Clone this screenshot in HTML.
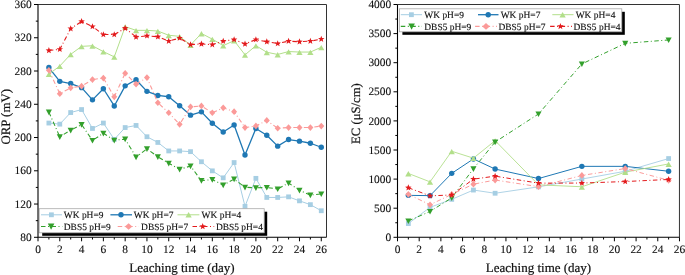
<!DOCTYPE html>
<html><head><meta charset="utf-8"><style>
html,body{margin:0;padding:0;background:#fff;width:685px;height:275px;overflow:hidden}
svg{display:block;will-change:transform}
text{font-family:"Liberation Serif",serif;fill:#111;text-rendering:geometricPrecision}
.tk{font-size:11.4px;stroke:#111;stroke-width:0.12px}
.ti{font-size:13px;stroke:#111;stroke-width:0.2px}
.lg{font-size:9.45px;stroke:#111;stroke-width:0.12px}
</style></head><body>
<svg width="685" height="275" viewBox="0 0 685 275">
<g><path d="M48.89 123.05 L59.79 124.15 L70.69 112.55 L81.58 109.55 L92.47 128.45 L103.37 123.05 L114.27 139.35 L125.16 127.55 L136.06 125.45 L146.95 136.75 L157.84 142.45 L168.74 150.95 L179.63 150.95 L190.53 151.65 L201.42 161.75 L212.32 170.85 L223.22 177.85 L234.11 162.55 L245.00 206.35 L255.90 178.35 L266.79 197.45 L277.69 197.45 L288.58 196.85 L299.48 200.85 L310.38 204.65 L321.27 210.75" fill="none" stroke="#a6cee3" stroke-width="1.0" stroke-linejoin="round"/><rect x="46.49" y="120.65" width="4.80" height="4.80" fill="#a6cee3"/><rect x="57.39" y="121.75" width="4.80" height="4.80" fill="#a6cee3"/><rect x="68.28" y="110.15" width="4.80" height="4.80" fill="#a6cee3"/><rect x="79.18" y="107.15" width="4.80" height="4.80" fill="#a6cee3"/><rect x="90.07" y="126.05" width="4.80" height="4.80" fill="#a6cee3"/><rect x="100.97" y="120.65" width="4.80" height="4.80" fill="#a6cee3"/><rect x="111.86" y="136.95" width="4.80" height="4.80" fill="#a6cee3"/><rect x="122.76" y="125.15" width="4.80" height="4.80" fill="#a6cee3"/><rect x="133.66" y="123.05" width="4.80" height="4.80" fill="#a6cee3"/><rect x="144.55" y="134.35" width="4.80" height="4.80" fill="#a6cee3"/><rect x="155.44" y="140.05" width="4.80" height="4.80" fill="#a6cee3"/><rect x="166.34" y="148.55" width="4.80" height="4.80" fill="#a6cee3"/><rect x="177.23" y="148.55" width="4.80" height="4.80" fill="#a6cee3"/><rect x="188.13" y="149.25" width="4.80" height="4.80" fill="#a6cee3"/><rect x="199.02" y="159.35" width="4.80" height="4.80" fill="#a6cee3"/><rect x="209.92" y="168.45" width="4.80" height="4.80" fill="#a6cee3"/><rect x="220.81" y="175.45" width="4.80" height="4.80" fill="#a6cee3"/><rect x="231.71" y="160.15" width="4.80" height="4.80" fill="#a6cee3"/><rect x="242.60" y="203.95" width="4.80" height="4.80" fill="#a6cee3"/><rect x="253.50" y="175.95" width="4.80" height="4.80" fill="#a6cee3"/><rect x="264.39" y="195.05" width="4.80" height="4.80" fill="#a6cee3"/><rect x="275.29" y="195.05" width="4.80" height="4.80" fill="#a6cee3"/><rect x="286.19" y="194.45" width="4.80" height="4.80" fill="#a6cee3"/><rect x="297.08" y="198.45" width="4.80" height="4.80" fill="#a6cee3"/><rect x="307.98" y="202.25" width="4.80" height="4.80" fill="#a6cee3"/><rect x="318.87" y="208.35" width="4.80" height="4.80" fill="#a6cee3"/><path d="M48.89 67.55 L59.79 81.35 L70.69 83.55 L81.58 87.65 L92.47 99.85 L103.37 88.75 L114.27 105.95 L125.16 85.85 L136.06 79.75 L146.95 91.35 L157.84 95.45 L168.74 96.75 L179.63 105.75 L190.53 115.15 L201.42 111.85 L212.32 123.25 L223.22 131.95 L234.11 124.95 L245.00 154.95 L255.90 128.45 L266.79 135.25 L277.69 146.15 L288.58 139.55 L299.48 141.15 L310.38 143.25 L321.27 147.25" fill="none" stroke="#1f78b4" stroke-width="1.3" stroke-linejoin="round"/><circle cx="48.89" cy="67.55" r="2.7" fill="#1f78b4"/><circle cx="59.79" cy="81.35" r="2.7" fill="#1f78b4"/><circle cx="70.69" cy="83.55" r="2.7" fill="#1f78b4"/><circle cx="81.58" cy="87.65" r="2.7" fill="#1f78b4"/><circle cx="92.47" cy="99.85" r="2.7" fill="#1f78b4"/><circle cx="103.37" cy="88.75" r="2.7" fill="#1f78b4"/><circle cx="114.27" cy="105.95" r="2.7" fill="#1f78b4"/><circle cx="125.16" cy="85.85" r="2.7" fill="#1f78b4"/><circle cx="136.06" cy="79.75" r="2.7" fill="#1f78b4"/><circle cx="146.95" cy="91.35" r="2.7" fill="#1f78b4"/><circle cx="157.84" cy="95.45" r="2.7" fill="#1f78b4"/><circle cx="168.74" cy="96.75" r="2.7" fill="#1f78b4"/><circle cx="179.63" cy="105.75" r="2.7" fill="#1f78b4"/><circle cx="190.53" cy="115.15" r="2.7" fill="#1f78b4"/><circle cx="201.42" cy="111.85" r="2.7" fill="#1f78b4"/><circle cx="212.32" cy="123.25" r="2.7" fill="#1f78b4"/><circle cx="223.22" cy="131.95" r="2.7" fill="#1f78b4"/><circle cx="234.11" cy="124.95" r="2.7" fill="#1f78b4"/><circle cx="245.00" cy="154.95" r="2.7" fill="#1f78b4"/><circle cx="255.90" cy="128.45" r="2.7" fill="#1f78b4"/><circle cx="266.79" cy="135.25" r="2.7" fill="#1f78b4"/><circle cx="277.69" cy="146.15" r="2.7" fill="#1f78b4"/><circle cx="288.58" cy="139.55" r="2.7" fill="#1f78b4"/><circle cx="299.48" cy="141.15" r="2.7" fill="#1f78b4"/><circle cx="310.38" cy="143.25" r="2.7" fill="#1f78b4"/><circle cx="321.27" cy="147.25" r="2.7" fill="#1f78b4"/><path d="M48.89 74.15 L59.79 66.05 L70.69 54.35 L81.58 46.35 L92.47 45.75 L103.37 51.65 L114.27 56.85 L125.16 26.65 L136.06 30.35 L146.95 30.35 L157.84 31.05 L168.74 35.25 L179.63 36.35 L190.53 45.05 L201.42 33.45 L212.32 39.15 L223.22 45.65 L234.11 40.65 L245.00 54.85 L255.90 45.65 L266.79 52.25 L277.69 54.45 L288.58 51.55 L299.48 52.05 L310.38 52.05 L321.27 47.25" fill="none" stroke="#b2df8a" stroke-width="1.0" stroke-linejoin="round"/><path d="M48.89 71.80L51.99 77.10L45.79 77.10Z" fill="#b2df8a"/><path d="M59.79 63.70L62.89 69.00L56.69 69.00Z" fill="#b2df8a"/><path d="M70.69 52.00L73.78 57.30L67.59 57.30Z" fill="#b2df8a"/><path d="M81.58 44.00L84.68 49.30L78.48 49.30Z" fill="#b2df8a"/><path d="M92.47 43.40L95.57 48.70L89.38 48.70Z" fill="#b2df8a"/><path d="M103.37 49.30L106.47 54.60L100.27 54.60Z" fill="#b2df8a"/><path d="M114.27 54.50L117.36 59.80L111.17 59.80Z" fill="#b2df8a"/><path d="M125.16 24.30L128.26 29.60L122.06 29.60Z" fill="#b2df8a"/><path d="M136.06 28.00L139.16 33.30L132.96 33.30Z" fill="#b2df8a"/><path d="M146.95 28.00L150.05 33.30L143.85 33.30Z" fill="#b2df8a"/><path d="M157.84 28.70L160.94 34.00L154.75 34.00Z" fill="#b2df8a"/><path d="M168.74 32.90L171.84 38.20L165.64 38.20Z" fill="#b2df8a"/><path d="M179.63 34.00L182.73 39.30L176.53 39.30Z" fill="#b2df8a"/><path d="M190.53 42.70L193.63 48.00L187.43 48.00Z" fill="#b2df8a"/><path d="M201.42 31.10L204.52 36.40L198.32 36.40Z" fill="#b2df8a"/><path d="M212.32 36.80L215.42 42.10L209.22 42.10Z" fill="#b2df8a"/><path d="M223.22 43.30L226.31 48.60L220.12 48.60Z" fill="#b2df8a"/><path d="M234.11 38.30L237.21 43.60L231.01 43.60Z" fill="#b2df8a"/><path d="M245.00 52.50L248.10 57.80L241.91 57.80Z" fill="#b2df8a"/><path d="M255.90 43.30L259.00 48.60L252.80 48.60Z" fill="#b2df8a"/><path d="M266.79 49.90L269.89 55.20L263.69 55.20Z" fill="#b2df8a"/><path d="M277.69 52.10L280.79 57.40L274.59 57.40Z" fill="#b2df8a"/><path d="M288.58 49.20L291.69 54.50L285.48 54.50Z" fill="#b2df8a"/><path d="M299.48 49.70L302.58 55.00L296.38 55.00Z" fill="#b2df8a"/><path d="M310.38 49.70L313.48 55.00L307.27 55.00Z" fill="#b2df8a"/><path d="M321.27 44.90L324.37 50.20L318.17 50.20Z" fill="#b2df8a"/><path d="M48.89 112.15 L59.79 136.75 L70.69 130.25 L81.58 124.55 L92.47 140.45 L103.37 133.25 L114.27 140.25 L125.16 139.15 L136.06 157.05 L146.95 148.85 L157.84 156.85 L168.74 163.25 L179.63 169.35 L190.53 166.05 L201.42 180.65 L212.32 179.55 L223.22 185.05 L234.11 179.15 L245.00 187.25 L255.90 187.85 L266.79 187.45 L277.69 188.95 L288.58 183.05 L299.48 190.25 L310.38 195.05 L321.27 193.95" fill="none" stroke="#33a02c" stroke-width="1.1" stroke-dasharray="4.5 2.5 1 2.5" stroke-linejoin="round"/><path d="M48.89 115.30L51.94 109.60L45.84 109.60Z" fill="#33a02c"/><path d="M59.79 139.90L62.84 134.20L56.74 134.20Z" fill="#33a02c"/><path d="M70.69 133.40L73.73 127.70L67.64 127.70Z" fill="#33a02c"/><path d="M81.58 127.70L84.63 122.00L78.53 122.00Z" fill="#33a02c"/><path d="M92.47 143.60L95.52 137.90L89.42 137.90Z" fill="#33a02c"/><path d="M103.37 136.40L106.42 130.70L100.32 130.70Z" fill="#33a02c"/><path d="M114.27 143.40L117.31 137.70L111.22 137.70Z" fill="#33a02c"/><path d="M125.16 142.30L128.21 136.60L122.11 136.60Z" fill="#33a02c"/><path d="M136.06 160.20L139.11 154.50L133.00 154.50Z" fill="#33a02c"/><path d="M146.95 152.00L150.00 146.30L143.90 146.30Z" fill="#33a02c"/><path d="M157.84 160.00L160.90 154.30L154.79 154.30Z" fill="#33a02c"/><path d="M168.74 166.40L171.79 160.70L165.69 160.70Z" fill="#33a02c"/><path d="M179.63 172.50L182.69 166.80L176.58 166.80Z" fill="#33a02c"/><path d="M190.53 169.20L193.58 163.50L187.48 163.50Z" fill="#33a02c"/><path d="M201.42 183.80L204.47 178.10L198.37 178.10Z" fill="#33a02c"/><path d="M212.32 182.70L215.37 177.00L209.27 177.00Z" fill="#33a02c"/><path d="M223.22 188.20L226.27 182.50L220.16 182.50Z" fill="#33a02c"/><path d="M234.11 182.30L237.16 176.60L231.06 176.60Z" fill="#33a02c"/><path d="M245.00 190.40L248.06 184.70L241.95 184.70Z" fill="#33a02c"/><path d="M255.90 191.00L258.95 185.30L252.85 185.30Z" fill="#33a02c"/><path d="M266.79 190.60L269.84 184.90L263.74 184.90Z" fill="#33a02c"/><path d="M277.69 192.10L280.74 186.40L274.64 186.40Z" fill="#33a02c"/><path d="M288.58 186.20L291.63 180.50L285.53 180.50Z" fill="#33a02c"/><path d="M299.48 193.40L302.53 187.70L296.43 187.70Z" fill="#33a02c"/><path d="M310.38 198.20L313.43 192.50L307.32 192.50Z" fill="#33a02c"/><path d="M321.27 197.10L324.32 191.40L318.22 191.40Z" fill="#33a02c"/><path d="M48.89 70.25 L59.79 93.75 L70.69 87.85 L81.58 86.15 L92.47 79.55 L103.37 78.05 L114.27 96.85 L125.16 73.25 L136.06 84.15 L146.95 77.55 L157.84 102.75 L168.74 112.75 L179.63 124.35 L190.53 106.85 L201.42 105.95 L212.32 112.75 L223.22 107.85 L234.11 111.65 L245.00 127.55 L255.90 125.95 L266.79 120.45 L277.69 128.25 L288.58 127.55 L299.48 127.55 L310.38 127.55 L321.27 126.05" fill="none" stroke="#fb9a99" stroke-width="1.1" stroke-dasharray="4.5 2.5 1 2.5" stroke-linejoin="round"/><path d="M48.89 66.90L51.89 70.25L48.89 73.60L45.89 70.25Z" fill="#fb9a99"/><path d="M59.79 90.40L62.79 93.75L59.79 97.10L56.79 93.75Z" fill="#fb9a99"/><path d="M70.69 84.50L73.69 87.85L70.69 91.20L67.69 87.85Z" fill="#fb9a99"/><path d="M81.58 82.80L84.58 86.15L81.58 89.50L78.58 86.15Z" fill="#fb9a99"/><path d="M92.47 76.20L95.47 79.55L92.47 82.90L89.47 79.55Z" fill="#fb9a99"/><path d="M103.37 74.70L106.37 78.05L103.37 81.40L100.37 78.05Z" fill="#fb9a99"/><path d="M114.27 93.50L117.27 96.85L114.27 100.20L111.27 96.85Z" fill="#fb9a99"/><path d="M125.16 69.90L128.16 73.25L125.16 76.60L122.16 73.25Z" fill="#fb9a99"/><path d="M136.06 80.80L139.06 84.15L136.06 87.50L133.06 84.15Z" fill="#fb9a99"/><path d="M146.95 74.20L149.95 77.55L146.95 80.90L143.95 77.55Z" fill="#fb9a99"/><path d="M157.84 99.40L160.84 102.75L157.84 106.10L154.84 102.75Z" fill="#fb9a99"/><path d="M168.74 109.40L171.74 112.75L168.74 116.10L165.74 112.75Z" fill="#fb9a99"/><path d="M179.63 121.00L182.63 124.35L179.63 127.70L176.63 124.35Z" fill="#fb9a99"/><path d="M190.53 103.50L193.53 106.85L190.53 110.20L187.53 106.85Z" fill="#fb9a99"/><path d="M201.42 102.60L204.42 105.95L201.42 109.30L198.42 105.95Z" fill="#fb9a99"/><path d="M212.32 109.40L215.32 112.75L212.32 116.10L209.32 112.75Z" fill="#fb9a99"/><path d="M223.22 104.50L226.22 107.85L223.22 111.20L220.22 107.85Z" fill="#fb9a99"/><path d="M234.11 108.30L237.11 111.65L234.11 115.00L231.11 111.65Z" fill="#fb9a99"/><path d="M245.00 124.20L248.00 127.55L245.00 130.90L242.00 127.55Z" fill="#fb9a99"/><path d="M255.90 122.60L258.90 125.95L255.90 129.30L252.90 125.95Z" fill="#fb9a99"/><path d="M266.79 117.10L269.79 120.45L266.79 123.80L263.79 120.45Z" fill="#fb9a99"/><path d="M277.69 124.90L280.69 128.25L277.69 131.60L274.69 128.25Z" fill="#fb9a99"/><path d="M288.58 124.20L291.58 127.55L288.58 130.90L285.58 127.55Z" fill="#fb9a99"/><path d="M299.48 124.20L302.48 127.55L299.48 130.90L296.48 127.55Z" fill="#fb9a99"/><path d="M310.38 124.20L313.38 127.55L310.38 130.90L307.38 127.55Z" fill="#fb9a99"/><path d="M321.27 122.70L324.27 126.05L321.27 129.40L318.27 126.05Z" fill="#fb9a99"/><path d="M48.89 50.45 L59.79 49.35 L70.69 28.65 L81.58 21.45 L92.47 26.55 L103.37 34.55 L114.27 34.55 L125.16 28.25 L136.06 36.95 L146.95 35.85 L157.84 36.75 L168.74 41.15 L179.63 38.05 L190.53 44.65 L201.42 43.95 L212.32 44.65 L223.22 41.15 L234.11 39.55 L245.00 43.95 L255.90 39.55 L266.79 41.75 L277.69 43.55 L288.58 41.15 L299.48 41.75 L310.38 41.15 L321.27 39.15" fill="none" stroke="#e31a1c" stroke-width="1.1" stroke-dasharray="4.5 2.5 1 2.5" stroke-linejoin="round"/><polygon points="48.89,47.05 49.75,49.28 52.13,49.40 50.27,50.90 50.89,53.20 48.89,51.90 46.90,53.20 47.52,50.90 45.66,49.40 48.04,49.28" fill="#e31a1c"/><polygon points="59.79,45.95 60.64,48.18 63.02,48.30 61.17,49.80 61.79,52.10 59.79,50.80 57.79,52.10 58.41,49.80 56.56,48.30 58.94,48.18" fill="#e31a1c"/><polygon points="70.69,25.25 71.54,27.48 73.92,27.60 72.06,29.10 72.68,31.40 70.69,30.10 68.69,31.40 69.31,29.10 67.45,27.60 69.83,27.48" fill="#e31a1c"/><polygon points="81.58,18.05 82.43,20.28 84.81,20.40 82.96,21.90 83.58,24.20 81.58,22.90 79.58,24.20 80.20,21.90 78.35,20.40 80.73,20.28" fill="#e31a1c"/><polygon points="92.47,23.15 93.33,25.38 95.71,25.50 93.85,27.00 94.47,29.30 92.47,28.00 90.48,29.30 91.10,27.00 89.24,25.50 91.62,25.38" fill="#e31a1c"/><polygon points="103.37,31.15 104.22,33.38 106.60,33.50 104.75,35.00 105.37,37.30 103.37,36.00 101.37,37.30 101.99,35.00 100.14,33.50 102.52,33.38" fill="#e31a1c"/><polygon points="114.27,31.15 115.12,33.38 117.50,33.50 115.64,35.00 116.26,37.30 114.27,36.00 112.27,37.30 112.89,35.00 111.03,33.50 113.41,33.38" fill="#e31a1c"/><polygon points="125.16,24.85 126.01,27.08 128.39,27.20 126.54,28.70 127.16,31.00 125.16,29.70 123.16,31.00 123.78,28.70 121.93,27.20 124.31,27.08" fill="#e31a1c"/><polygon points="136.06,33.55 136.91,35.78 139.29,35.90 137.43,37.40 138.05,39.70 136.06,38.40 134.06,39.70 134.68,37.40 132.82,35.90 135.20,35.78" fill="#e31a1c"/><polygon points="146.95,32.45 147.80,34.68 150.18,34.80 148.33,36.30 148.95,38.60 146.95,37.30 144.95,38.60 145.57,36.30 143.72,34.80 146.10,34.68" fill="#e31a1c"/><polygon points="157.84,33.35 158.70,35.58 161.08,35.70 159.22,37.20 159.84,39.50 157.84,38.20 155.85,39.50 156.47,37.20 154.61,35.70 156.99,35.58" fill="#e31a1c"/><polygon points="168.74,37.75 169.59,39.98 171.97,40.10 170.12,41.60 170.74,43.90 168.74,42.60 166.74,43.90 167.36,41.60 165.51,40.10 167.89,39.98" fill="#e31a1c"/><polygon points="179.63,34.65 180.49,36.88 182.87,37.00 181.01,38.50 181.63,40.80 179.63,39.50 177.64,40.80 178.26,38.50 176.40,37.00 178.78,36.88" fill="#e31a1c"/><polygon points="190.53,41.25 191.38,43.48 193.76,43.60 191.91,45.10 192.53,47.40 190.53,46.10 188.53,47.40 189.15,45.10 187.30,43.60 189.68,43.48" fill="#e31a1c"/><polygon points="201.42,40.55 202.28,42.78 204.66,42.90 202.80,44.40 203.42,46.70 201.42,45.40 199.43,46.70 200.05,44.40 198.19,42.90 200.57,42.78" fill="#e31a1c"/><polygon points="212.32,41.25 213.17,43.48 215.55,43.60 213.70,45.10 214.32,47.40 212.32,46.10 210.32,47.40 210.94,45.10 209.09,43.60 211.47,43.48" fill="#e31a1c"/><polygon points="223.22,37.75 224.07,39.98 226.45,40.10 224.59,41.60 225.21,43.90 223.22,42.60 221.22,43.90 221.84,41.60 219.98,40.10 222.36,39.98" fill="#e31a1c"/><polygon points="234.11,36.15 234.96,38.38 237.34,38.50 235.49,40.00 236.11,42.30 234.11,41.00 232.11,42.30 232.73,40.00 230.88,38.50 233.26,38.38" fill="#e31a1c"/><polygon points="245.00,40.55 245.86,42.78 248.24,42.90 246.38,44.40 247.00,46.70 245.00,45.40 243.01,46.70 243.63,44.40 241.77,42.90 244.15,42.78" fill="#e31a1c"/><polygon points="255.90,36.15 256.75,38.38 259.13,38.50 257.28,40.00 257.90,42.30 255.90,41.00 253.90,42.30 254.52,40.00 252.67,38.50 255.05,38.38" fill="#e31a1c"/><polygon points="266.79,38.35 267.65,40.58 270.03,40.70 268.17,42.20 268.79,44.50 266.79,43.20 264.80,44.50 265.42,42.20 263.56,40.70 265.94,40.58" fill="#e31a1c"/><polygon points="277.69,40.15 278.54,42.38 280.92,42.50 279.07,44.00 279.69,46.30 277.69,45.00 275.69,46.30 276.31,44.00 274.46,42.50 276.84,42.38" fill="#e31a1c"/><polygon points="288.58,37.75 289.44,39.98 291.82,40.10 289.96,41.60 290.58,43.90 288.58,42.60 286.59,43.90 287.21,41.60 285.35,40.10 287.73,39.98" fill="#e31a1c"/><polygon points="299.48,38.35 300.33,40.58 302.71,40.70 300.86,42.20 301.48,44.50 299.48,43.20 297.48,44.50 298.10,42.20 296.25,40.70 298.63,40.58" fill="#e31a1c"/><polygon points="310.38,37.75 311.23,39.98 313.61,40.10 311.75,41.60 312.37,43.90 310.38,42.60 308.38,43.90 309.00,41.60 307.14,40.10 309.52,39.98" fill="#e31a1c"/><polygon points="321.27,35.75 322.12,37.98 324.50,38.10 322.65,39.60 323.27,41.90 321.27,40.60 319.27,41.90 319.89,39.60 318.04,38.10 320.42,37.98" fill="#e31a1c"/></g>
<g><path d="M408.35 223.55 L430.04 207.35 L451.73 199.35 L473.42 190.05 L495.11 193.25 L538.49 186.85 L581.87 179.05 L625.25 171.25 L668.62 158.55" fill="none" stroke="#a6cee3" stroke-width="0.9" stroke-linejoin="round"/><rect x="405.95" y="221.15" width="4.80" height="4.80" fill="#a6cee3"/><rect x="427.64" y="204.95" width="4.80" height="4.80" fill="#a6cee3"/><rect x="449.33" y="196.95" width="4.80" height="4.80" fill="#a6cee3"/><rect x="471.02" y="187.65" width="4.80" height="4.80" fill="#a6cee3"/><rect x="492.71" y="190.85" width="4.80" height="4.80" fill="#a6cee3"/><rect x="536.09" y="184.45" width="4.80" height="4.80" fill="#a6cee3"/><rect x="579.47" y="176.65" width="4.80" height="4.80" fill="#a6cee3"/><rect x="622.85" y="168.85" width="4.80" height="4.80" fill="#a6cee3"/><rect x="666.23" y="156.15" width="4.80" height="4.80" fill="#a6cee3"/><path d="M408.35 195.35 L430.04 195.65 L451.73 173.35 L473.42 158.95 L495.11 169.05 L538.49 178.55 L581.87 166.35 L625.25 166.35 L668.62 171.25" fill="none" stroke="#1f78b4" stroke-width="1.0" stroke-linejoin="round"/><circle cx="408.35" cy="195.35" r="2.7" fill="#1f78b4"/><circle cx="430.04" cy="195.65" r="2.7" fill="#1f78b4"/><circle cx="451.73" cy="173.35" r="2.7" fill="#1f78b4"/><circle cx="473.42" cy="158.95" r="2.7" fill="#1f78b4"/><circle cx="495.11" cy="169.05" r="2.7" fill="#1f78b4"/><circle cx="538.49" cy="178.55" r="2.7" fill="#1f78b4"/><circle cx="581.87" cy="166.35" r="2.7" fill="#1f78b4"/><circle cx="625.25" cy="166.35" r="2.7" fill="#1f78b4"/><circle cx="668.62" cy="171.25" r="2.7" fill="#1f78b4"/><path d="M408.35 173.45 L430.04 181.85 L451.73 151.25 L473.42 158.15 L495.11 140.65 L538.49 184.85 L581.87 186.75 L625.25 172.15 L668.62 163.95" fill="none" stroke="#b2df8a" stroke-width="0.9" stroke-linejoin="round"/><path d="M408.35 171.10L411.45 176.40L405.25 176.40Z" fill="#b2df8a"/><path d="M430.04 179.50L433.14 184.80L426.94 184.80Z" fill="#b2df8a"/><path d="M451.73 148.90L454.83 154.20L448.62 154.20Z" fill="#b2df8a"/><path d="M473.42 155.80L476.52 161.10L470.31 161.10Z" fill="#b2df8a"/><path d="M495.11 138.30L498.21 143.60L492.00 143.60Z" fill="#b2df8a"/><path d="M538.49 182.50L541.59 187.80L535.38 187.80Z" fill="#b2df8a"/><path d="M581.87 184.40L584.97 189.70L578.76 189.70Z" fill="#b2df8a"/><path d="M625.25 169.80L628.35 175.10L622.14 175.10Z" fill="#b2df8a"/><path d="M668.62 161.60L671.73 166.90L665.52 166.90Z" fill="#b2df8a"/><path d="M408.35 220.95 L430.04 211.45 L451.73 197.85 L473.42 168.75 L495.11 142.05 L538.49 113.95 L581.87 63.95 L625.25 43.35 L668.62 39.95" fill="none" stroke="#33a02c" stroke-width="1.0" stroke-dasharray="4.5 2.5 1 2.5" stroke-linejoin="round"/><path d="M408.35 224.10L411.40 218.40L405.30 218.40Z" fill="#33a02c"/><path d="M430.04 214.60L433.09 208.90L426.99 208.90Z" fill="#33a02c"/><path d="M451.73 201.00L454.78 195.30L448.68 195.30Z" fill="#33a02c"/><path d="M473.42 171.90L476.47 166.20L470.37 166.20Z" fill="#33a02c"/><path d="M495.11 145.20L498.16 139.50L492.06 139.50Z" fill="#33a02c"/><path d="M538.49 117.10L541.53 111.40L535.44 111.40Z" fill="#33a02c"/><path d="M581.87 67.10L584.91 61.40L578.82 61.40Z" fill="#33a02c"/><path d="M625.25 46.50L628.29 40.80L622.20 40.80Z" fill="#33a02c"/><path d="M668.62 43.10L671.67 37.40L665.58 37.40Z" fill="#33a02c"/><path d="M408.35 194.35 L430.04 204.75 L451.73 194.35 L473.42 184.15 L495.11 180.05 L538.49 186.65 L581.87 175.45 L625.25 168.55 L668.62 180.35" fill="none" stroke="#fb9a99" stroke-width="1.0" stroke-dasharray="4.5 2.5 1 2.5" stroke-linejoin="round"/><path d="M408.35 191.00L411.35 194.35L408.35 197.70L405.35 194.35Z" fill="#fb9a99"/><path d="M430.04 201.40L433.04 204.75L430.04 208.10L427.04 204.75Z" fill="#fb9a99"/><path d="M451.73 191.00L454.73 194.35L451.73 197.70L448.73 194.35Z" fill="#fb9a99"/><path d="M473.42 180.80L476.42 184.15L473.42 187.50L470.42 184.15Z" fill="#fb9a99"/><path d="M495.11 176.70L498.11 180.05L495.11 183.40L492.11 180.05Z" fill="#fb9a99"/><path d="M538.49 183.30L541.49 186.65L538.49 190.00L535.49 186.65Z" fill="#fb9a99"/><path d="M581.87 172.10L584.87 175.45L581.87 178.80L578.87 175.45Z" fill="#fb9a99"/><path d="M625.25 165.20L628.25 168.55L625.25 171.90L622.25 168.55Z" fill="#fb9a99"/><path d="M668.62 177.00L671.62 180.35L668.62 183.70L665.62 180.35Z" fill="#fb9a99"/><path d="M408.35 187.75 L430.04 195.85 L451.73 194.95 L473.42 179.15 L495.11 176.15 L538.49 183.15 L581.87 183.05 L625.25 181.55 L668.62 179.45" fill="none" stroke="#e31a1c" stroke-width="1.0" stroke-dasharray="4.5 2.5 1 2.5" stroke-linejoin="round"/><polygon points="408.35,184.35 409.20,186.58 411.58,186.70 409.72,188.20 410.34,190.50 408.35,189.20 406.35,190.50 406.97,188.20 405.11,186.70 407.49,186.58" fill="#e31a1c"/><polygon points="430.04,192.45 430.89,194.68 433.27,194.80 431.41,196.30 432.03,198.60 430.04,197.30 428.04,198.60 428.66,196.30 426.80,194.80 429.18,194.68" fill="#e31a1c"/><polygon points="451.73,191.55 452.58,193.78 454.96,193.90 453.10,195.40 453.72,197.70 451.73,196.40 449.73,197.70 450.35,195.40 448.49,193.90 450.87,193.78" fill="#e31a1c"/><polygon points="473.42,175.75 474.27,177.98 476.65,178.10 474.79,179.60 475.41,181.90 473.42,180.60 471.42,181.90 472.04,179.60 470.18,178.10 472.56,177.98" fill="#e31a1c"/><polygon points="495.11,172.75 495.96,174.98 498.34,175.10 496.48,176.60 497.10,178.90 495.11,177.60 493.11,178.90 493.73,176.60 491.87,175.10 494.25,174.98" fill="#e31a1c"/><polygon points="538.49,179.75 539.34,181.98 541.72,182.10 539.86,183.60 540.48,185.90 538.49,184.60 536.49,185.90 537.11,183.60 535.25,182.10 537.63,181.98" fill="#e31a1c"/><polygon points="581.87,179.65 582.72,181.88 585.10,182.00 583.24,183.50 583.86,185.80 581.87,184.50 579.87,185.80 580.49,183.50 578.63,182.00 581.01,181.88" fill="#e31a1c"/><polygon points="625.25,178.15 626.10,180.38 628.48,180.50 626.62,182.00 627.24,184.30 625.25,183.00 623.25,184.30 623.87,182.00 622.01,180.50 624.39,180.38" fill="#e31a1c"/><polygon points="668.62,176.05 669.48,178.28 671.86,178.40 670.00,179.90 670.62,182.20 668.62,180.90 666.63,182.20 667.25,179.90 665.39,178.40 667.77,178.28" fill="#e31a1c"/></g>
<rect x="42.2" y="211.7" width="225.0" height="24.100000000000023" fill="#000"/><rect x="39.2" y="208.7" width="225.0" height="24.100000000000023" fill="#fff" stroke="#aaa" stroke-width="0.8"/><line x1="41.0" y1="214.8" x2="62" y2="214.8" stroke="#a6cee3" stroke-width="1.0"/><rect x="49.00" y="212.40" width="4.80" height="4.80" fill="#a6cee3"/><text x="63.80" y="218.10" class="lg">WK pH=9</text><line x1="110.4" y1="214.8" x2="132" y2="214.8" stroke="#1f78b4" stroke-width="1.3"/><circle cx="121.00" cy="214.80" r="2.7" fill="#1f78b4"/><text x="133.80" y="218.10" class="lg">WK pH=7</text><line x1="177.5" y1="214.8" x2="199.4" y2="214.8" stroke="#b2df8a" stroke-width="1.0"/><path d="M188.60 212.00L191.70 217.60L185.50 217.60Z" fill="#b2df8a"/><text x="201.60" y="218.10" class="lg">WK pH=4</text><line x1="41" y1="226.5" x2="62.3" y2="226.5" stroke="#33a02c" stroke-width="1.1" stroke-dasharray="4.5 2.5 1 2.5"/><path d="M51.10 229.80L54.40 223.60L47.80 223.60Z" fill="#33a02c"/><text x="63.80" y="229.80" class="lg">DBS5 pH=9</text><line x1="117.7" y1="226.5" x2="138.8" y2="226.5" stroke="#fb9a99" stroke-width="1.1" stroke-dasharray="4.5 2.5 1 2.5"/><path d="M128.60 223.20L132.30 226.50L128.60 229.80L124.90 226.50Z" fill="#fb9a99"/><text x="141.10" y="229.80" class="lg">DBS5 pH=7</text><line x1="192.5" y1="226.5" x2="214.2" y2="226.5" stroke="#e31a1c" stroke-width="1.1" stroke-dasharray="4.5 2.5 1 2.5"/><polygon points="202.70,223.10 203.55,225.33 205.93,225.45 204.08,226.95 204.70,229.25 202.70,227.95 200.70,229.25 201.32,226.95 199.47,225.45 201.85,225.33" fill="#e31a1c"/><text x="215.90" y="229.80" class="lg">DBS5 pH=4</text><rect x="402.4" y="11.8" width="222.39999999999998" height="23.0" fill="#000"/><rect x="399.4" y="8.8" width="222.39999999999998" height="23.0" fill="#fff" stroke="#aaa" stroke-width="0.8"/><line x1="400.8" y1="14.7" x2="422" y2="14.7" stroke="#a6cee3" stroke-width="1.0"/><rect x="409.00" y="12.30" width="4.80" height="4.80" fill="#a6cee3"/><text x="424.30" y="18.00" class="lg">WK pH=9</text><line x1="478" y1="14.7" x2="498.5" y2="14.7" stroke="#1f78b4" stroke-width="1.3"/><circle cx="488.20" cy="14.70" r="2.7" fill="#1f78b4"/><text x="500.70" y="18.00" class="lg">WK pH=7</text><line x1="552.3" y1="14.7" x2="573.5" y2="14.7" stroke="#b2df8a" stroke-width="1.0"/><path d="M562.60 11.90L565.70 17.50L559.50 17.50Z" fill="#b2df8a"/><text x="575.70" y="18.00" class="lg">WK pH=4</text><line x1="400.8" y1="26.4" x2="422" y2="26.4" stroke="#33a02c" stroke-width="1.1" stroke-dasharray="4.5 2.5 1 2.5"/><path d="M411.60 29.70L414.90 23.50L408.30 23.50Z" fill="#33a02c"/><text x="424.30" y="29.70" class="lg">DBS5 pH=9</text><line x1="475.1" y1="26.4" x2="497" y2="26.4" stroke="#fb9a99" stroke-width="1.1" stroke-dasharray="4.5 2.5 1 2.5"/><path d="M486.00 23.10L489.70 26.40L486.00 29.70L482.30 26.40Z" fill="#fb9a99"/><text x="498.50" y="29.70" class="lg">DBS5 pH=7</text><line x1="550.1" y1="26.4" x2="572" y2="26.4" stroke="#e31a1c" stroke-width="1.1" stroke-dasharray="4.5 2.5 1 2.5"/><polygon points="560.40,23.00 561.25,25.23 563.63,25.35 561.78,26.85 562.40,29.15 560.40,27.85 558.40,29.15 559.02,26.85 557.17,25.35 559.55,25.23" fill="#e31a1c"/><text x="573.50" y="29.70" class="lg">DBS5 pH=4</text>
<path d="M38.0 4.5 H326.5 V237.3" fill="none" stroke="#333" stroke-width="1"/><path d="M38.0 4.5 V237.3 H326.5" fill="none" stroke="#000" stroke-width="1.1"/><line x1="34.0" y1="237.30" x2="38.0" y2="237.30" stroke="#000" stroke-width="1"/><line x1="35.8" y1="220.67" x2="38.0" y2="220.67" stroke="#000" stroke-width="1"/><line x1="34.0" y1="204.04" x2="38.0" y2="204.04" stroke="#000" stroke-width="1"/><line x1="35.8" y1="187.41" x2="38.0" y2="187.41" stroke="#000" stroke-width="1"/><line x1="34.0" y1="170.79" x2="38.0" y2="170.79" stroke="#000" stroke-width="1"/><line x1="35.8" y1="154.16" x2="38.0" y2="154.16" stroke="#000" stroke-width="1"/><line x1="34.0" y1="137.53" x2="38.0" y2="137.53" stroke="#000" stroke-width="1"/><line x1="35.8" y1="120.90" x2="38.0" y2="120.90" stroke="#000" stroke-width="1"/><line x1="34.0" y1="104.27" x2="38.0" y2="104.27" stroke="#000" stroke-width="1"/><line x1="35.8" y1="87.64" x2="38.0" y2="87.64" stroke="#000" stroke-width="1"/><line x1="34.0" y1="71.01" x2="38.0" y2="71.01" stroke="#000" stroke-width="1"/><line x1="35.8" y1="54.39" x2="38.0" y2="54.39" stroke="#000" stroke-width="1"/><line x1="34.0" y1="37.76" x2="38.0" y2="37.76" stroke="#000" stroke-width="1"/><line x1="35.8" y1="21.13" x2="38.0" y2="21.13" stroke="#000" stroke-width="1"/><line x1="34.0" y1="4.50" x2="38.0" y2="4.50" stroke="#000" stroke-width="1"/><text x="31.7" y="240.90" class="tk" text-anchor="end">80</text><text x="31.7" y="207.64" class="tk" text-anchor="end">120</text><text x="31.7" y="174.39" class="tk" text-anchor="end">160</text><text x="31.7" y="141.13" class="tk" text-anchor="end">200</text><text x="31.7" y="107.87" class="tk" text-anchor="end">240</text><text x="31.7" y="74.61" class="tk" text-anchor="end">280</text><text x="31.7" y="41.36" class="tk" text-anchor="end">320</text><text x="31.7" y="8.10" class="tk" text-anchor="end">360</text><line x1="38.00" y1="237.3" x2="38.00" y2="241.3" stroke="#000" stroke-width="1"/><line x1="48.89" y1="237.3" x2="48.89" y2="239.5" stroke="#000" stroke-width="1"/><line x1="59.79" y1="237.3" x2="59.79" y2="241.3" stroke="#000" stroke-width="1"/><line x1="70.69" y1="237.3" x2="70.69" y2="239.5" stroke="#000" stroke-width="1"/><line x1="81.58" y1="237.3" x2="81.58" y2="241.3" stroke="#000" stroke-width="1"/><line x1="92.47" y1="237.3" x2="92.47" y2="239.5" stroke="#000" stroke-width="1"/><line x1="103.37" y1="237.3" x2="103.37" y2="241.3" stroke="#000" stroke-width="1"/><line x1="114.27" y1="237.3" x2="114.27" y2="239.5" stroke="#000" stroke-width="1"/><line x1="125.16" y1="237.3" x2="125.16" y2="241.3" stroke="#000" stroke-width="1"/><line x1="136.06" y1="237.3" x2="136.06" y2="239.5" stroke="#000" stroke-width="1"/><line x1="146.95" y1="237.3" x2="146.95" y2="241.3" stroke="#000" stroke-width="1"/><line x1="157.84" y1="237.3" x2="157.84" y2="239.5" stroke="#000" stroke-width="1"/><line x1="168.74" y1="237.3" x2="168.74" y2="241.3" stroke="#000" stroke-width="1"/><line x1="179.63" y1="237.3" x2="179.63" y2="239.5" stroke="#000" stroke-width="1"/><line x1="190.53" y1="237.3" x2="190.53" y2="241.3" stroke="#000" stroke-width="1"/><line x1="201.42" y1="237.3" x2="201.42" y2="239.5" stroke="#000" stroke-width="1"/><line x1="212.32" y1="237.3" x2="212.32" y2="241.3" stroke="#000" stroke-width="1"/><line x1="223.22" y1="237.3" x2="223.22" y2="239.5" stroke="#000" stroke-width="1"/><line x1="234.11" y1="237.3" x2="234.11" y2="241.3" stroke="#000" stroke-width="1"/><line x1="245.00" y1="237.3" x2="245.00" y2="239.5" stroke="#000" stroke-width="1"/><line x1="255.90" y1="237.3" x2="255.90" y2="241.3" stroke="#000" stroke-width="1"/><line x1="266.79" y1="237.3" x2="266.79" y2="239.5" stroke="#000" stroke-width="1"/><line x1="277.69" y1="237.3" x2="277.69" y2="241.3" stroke="#000" stroke-width="1"/><line x1="288.58" y1="237.3" x2="288.58" y2="239.5" stroke="#000" stroke-width="1"/><line x1="299.48" y1="237.3" x2="299.48" y2="241.3" stroke="#000" stroke-width="1"/><line x1="310.38" y1="237.3" x2="310.38" y2="239.5" stroke="#000" stroke-width="1"/><line x1="321.27" y1="237.3" x2="321.27" y2="241.3" stroke="#000" stroke-width="1"/><text x="38.00" y="252.8" class="tk" text-anchor="middle">0</text><text x="59.79" y="252.8" class="tk" text-anchor="middle">2</text><text x="81.58" y="252.8" class="tk" text-anchor="middle">4</text><text x="103.37" y="252.8" class="tk" text-anchor="middle">6</text><text x="125.16" y="252.8" class="tk" text-anchor="middle">8</text><text x="146.95" y="252.8" class="tk" text-anchor="middle">10</text><text x="168.74" y="252.8" class="tk" text-anchor="middle">12</text><text x="190.53" y="252.8" class="tk" text-anchor="middle">14</text><text x="212.32" y="252.8" class="tk" text-anchor="middle">16</text><text x="234.11" y="252.8" class="tk" text-anchor="middle">18</text><text x="255.90" y="252.8" class="tk" text-anchor="middle">20</text><text x="277.69" y="252.8" class="tk" text-anchor="middle">22</text><text x="299.48" y="252.8" class="tk" text-anchor="middle">24</text><text x="321.27" y="252.8" class="tk" text-anchor="middle">26</text><path d="M397.5 4.5 H679.45 V237.3" fill="none" stroke="#333" stroke-width="1"/><path d="M397.5 4.5 V237.3 H679.45" fill="none" stroke="#000" stroke-width="1.1"/><line x1="393.5" y1="237.30" x2="397.5" y2="237.30" stroke="#000" stroke-width="1"/><line x1="395.3" y1="222.75" x2="397.5" y2="222.75" stroke="#000" stroke-width="1"/><line x1="393.5" y1="208.20" x2="397.5" y2="208.20" stroke="#000" stroke-width="1"/><line x1="395.3" y1="193.65" x2="397.5" y2="193.65" stroke="#000" stroke-width="1"/><line x1="393.5" y1="179.10" x2="397.5" y2="179.10" stroke="#000" stroke-width="1"/><line x1="395.3" y1="164.55" x2="397.5" y2="164.55" stroke="#000" stroke-width="1"/><line x1="393.5" y1="150.00" x2="397.5" y2="150.00" stroke="#000" stroke-width="1"/><line x1="395.3" y1="135.45" x2="397.5" y2="135.45" stroke="#000" stroke-width="1"/><line x1="393.5" y1="120.90" x2="397.5" y2="120.90" stroke="#000" stroke-width="1"/><line x1="395.3" y1="106.35" x2="397.5" y2="106.35" stroke="#000" stroke-width="1"/><line x1="393.5" y1="91.80" x2="397.5" y2="91.80" stroke="#000" stroke-width="1"/><line x1="395.3" y1="77.25" x2="397.5" y2="77.25" stroke="#000" stroke-width="1"/><line x1="393.5" y1="62.70" x2="397.5" y2="62.70" stroke="#000" stroke-width="1"/><line x1="395.3" y1="48.15" x2="397.5" y2="48.15" stroke="#000" stroke-width="1"/><line x1="393.5" y1="33.60" x2="397.5" y2="33.60" stroke="#000" stroke-width="1"/><line x1="395.3" y1="19.05" x2="397.5" y2="19.05" stroke="#000" stroke-width="1"/><line x1="393.5" y1="4.50" x2="397.5" y2="4.50" stroke="#000" stroke-width="1"/><text x="391.2" y="240.90" class="tk" text-anchor="end">0</text><text x="391.2" y="211.80" class="tk" text-anchor="end">500</text><text x="391.2" y="182.70" class="tk" text-anchor="end">1000</text><text x="391.2" y="153.60" class="tk" text-anchor="end">1500</text><text x="391.2" y="124.50" class="tk" text-anchor="end">2000</text><text x="391.2" y="95.40" class="tk" text-anchor="end">2500</text><text x="391.2" y="66.30" class="tk" text-anchor="end">3000</text><text x="391.2" y="37.20" class="tk" text-anchor="end">3500</text><text x="391.2" y="8.10" class="tk" text-anchor="end">4000</text><line x1="397.50" y1="237.3" x2="397.50" y2="241.3" stroke="#000" stroke-width="1"/><line x1="408.35" y1="237.3" x2="408.35" y2="239.5" stroke="#000" stroke-width="1"/><line x1="419.19" y1="237.3" x2="419.19" y2="241.3" stroke="#000" stroke-width="1"/><line x1="430.04" y1="237.3" x2="430.04" y2="239.5" stroke="#000" stroke-width="1"/><line x1="440.88" y1="237.3" x2="440.88" y2="241.3" stroke="#000" stroke-width="1"/><line x1="451.73" y1="237.3" x2="451.73" y2="239.5" stroke="#000" stroke-width="1"/><line x1="462.57" y1="237.3" x2="462.57" y2="241.3" stroke="#000" stroke-width="1"/><line x1="473.42" y1="237.3" x2="473.42" y2="239.5" stroke="#000" stroke-width="1"/><line x1="484.26" y1="237.3" x2="484.26" y2="241.3" stroke="#000" stroke-width="1"/><line x1="495.11" y1="237.3" x2="495.11" y2="239.5" stroke="#000" stroke-width="1"/><line x1="505.95" y1="237.3" x2="505.95" y2="241.3" stroke="#000" stroke-width="1"/><line x1="516.79" y1="237.3" x2="516.79" y2="239.5" stroke="#000" stroke-width="1"/><line x1="527.64" y1="237.3" x2="527.64" y2="241.3" stroke="#000" stroke-width="1"/><line x1="538.49" y1="237.3" x2="538.49" y2="239.5" stroke="#000" stroke-width="1"/><line x1="549.33" y1="237.3" x2="549.33" y2="241.3" stroke="#000" stroke-width="1"/><line x1="560.17" y1="237.3" x2="560.17" y2="239.5" stroke="#000" stroke-width="1"/><line x1="571.02" y1="237.3" x2="571.02" y2="241.3" stroke="#000" stroke-width="1"/><line x1="581.87" y1="237.3" x2="581.87" y2="239.5" stroke="#000" stroke-width="1"/><line x1="592.71" y1="237.3" x2="592.71" y2="241.3" stroke="#000" stroke-width="1"/><line x1="603.56" y1="237.3" x2="603.56" y2="239.5" stroke="#000" stroke-width="1"/><line x1="614.40" y1="237.3" x2="614.40" y2="241.3" stroke="#000" stroke-width="1"/><line x1="625.25" y1="237.3" x2="625.25" y2="239.5" stroke="#000" stroke-width="1"/><line x1="636.09" y1="237.3" x2="636.09" y2="241.3" stroke="#000" stroke-width="1"/><line x1="646.93" y1="237.3" x2="646.93" y2="239.5" stroke="#000" stroke-width="1"/><line x1="657.78" y1="237.3" x2="657.78" y2="241.3" stroke="#000" stroke-width="1"/><line x1="668.62" y1="237.3" x2="668.62" y2="239.5" stroke="#000" stroke-width="1"/><line x1="679.47" y1="237.3" x2="679.47" y2="241.3" stroke="#000" stroke-width="1"/><text x="397.50" y="252.8" class="tk" text-anchor="middle">0</text><text x="419.19" y="252.8" class="tk" text-anchor="middle">2</text><text x="440.88" y="252.8" class="tk" text-anchor="middle">4</text><text x="462.57" y="252.8" class="tk" text-anchor="middle">6</text><text x="484.26" y="252.8" class="tk" text-anchor="middle">8</text><text x="505.95" y="252.8" class="tk" text-anchor="middle">10</text><text x="527.64" y="252.8" class="tk" text-anchor="middle">12</text><text x="549.33" y="252.8" class="tk" text-anchor="middle">14</text><text x="571.02" y="252.8" class="tk" text-anchor="middle">16</text><text x="592.71" y="252.8" class="tk" text-anchor="middle">18</text><text x="614.40" y="252.8" class="tk" text-anchor="middle">20</text><text x="636.09" y="252.8" class="tk" text-anchor="middle">22</text><text x="657.78" y="252.8" class="tk" text-anchor="middle">24</text><text x="679.47" y="252.8" class="tk" text-anchor="middle">26</text>
<text x="182" y="272.1" class="ti" text-anchor="middle">Leaching time (day)</text><text x="538.5" y="272.1" class="ti" text-anchor="middle">Leaching time (day)</text><text transform="translate(9.6 144.6) rotate(-90)" class="ti" style="font-size:12.85px">ORP (mV)</text><text transform="translate(359.6 143.9) rotate(-90)" class="ti" style="font-size:12.7px">EC (μS/cm)</text>
</svg></body></html>
